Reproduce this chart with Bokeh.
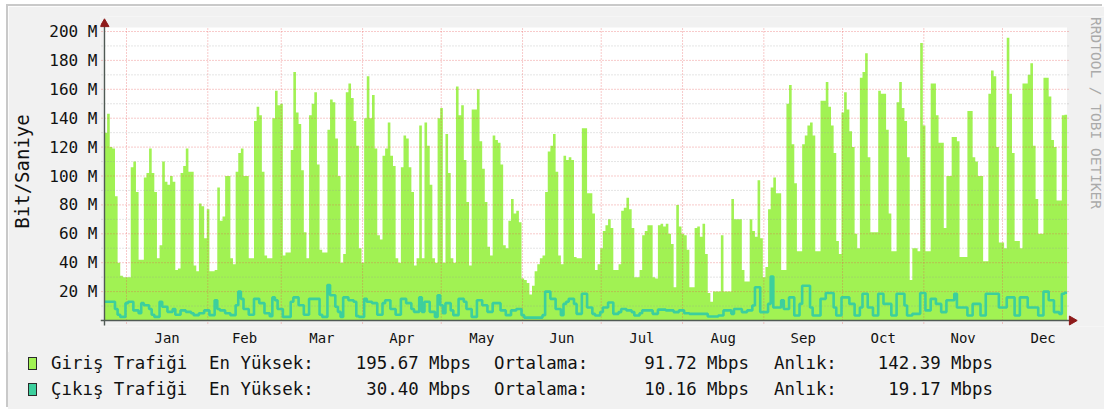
import numpy as np
from bokeh.plotting import figure
from bokeh.layouts import column
from bokeh.models import Range1d, FixedTicker, ColumnDataSource, Div
from bokeh.core.properties import value
from bokeh.embed import file_html
from bokeh.resources import INLINE

# ---------------- data ----------------
first_sample_day = -8.39          # start of first daily sample, in days from Jan 1
giris_mbps = [
    130, 143, 120, 119, 86, 40, 31, 30, 30, 30,
    106, 110, 89, 42, 42, 99, 102, 119, 102, 89,
    43, 52, 110, 96, 94, 100, 96, 35, 36, 102,
    107, 119, 103, 103, 38, 34, 81, 79, 57, 77,
    34, 34, 35, 92, 69, 72, 100, 100, 43, 39,
    103, 116, 119, 100, 100, 43, 43, 138, 148, 142,
    103, 45, 43, 43, 140, 159, 149, 150, 45, 47,
    47, 118, 172, 144, 136, 104, 61, 43, 142, 150,
    158, 108, 49, 47, 47, 132, 153, 151, 126, 100,
    40, 46, 158, 164, 154, 138, 121, 50, 40, 140,
    169, 140, 156, 119, 59, 56, 114, 119, 137, 114,
    107, 43, 40, 106, 128, 126, 106, 89, 38, 43,
    135, 43, 137, 121, 94, 43, 40, 140, 147, 40,
    129, 102, 43, 40, 162, 142, 149, 111, 82, 38,
    146, 146, 160, 124, 105, 82, 51, 45, 128, 125,
    123, 108, 52, 50, 69, 84, 74, 76, 68, 29,
    28, 26, 18, 24, 34, 39, 43, 45, 89, 117,
    121, 129, 103, 45, 39, 114, 111, 113, 111, 44,
    43, 43, 133, 133, 88, 88, 74, 35, 39, 50,
    62, 66, 70, 64, 35, 35, 39, 76, 78, 85,
    77, 64, 30, 30, 35, 59, 62, 66, 66, 30,
    29, 66, 67, 65, 67, 60, 53, 23, 80, 65,
    60, 59, 49, 23, 23, 64, 65, 58, 67, 46,
    19, 13, 20, 20, 20, 59, 20, 20, 20, 84,
    70, 70, 70, 35, 27, 27, 70, 62, 58, 97,
    57, 30, 37, 77, 92, 99, 88, 88, 35, 35,
    150, 163, 122, 95, 48, 48, 122, 128, 135, 137,
    128, 48, 48, 152, 152, 165, 148, 135, 116, 55,
    46, 144, 158, 146, 131, 120, 60, 50, 168, 172,
    185, 113, 61, 61, 61, 159, 157, 157, 132, 74,
    48, 48, 151, 165, 147, 138, 113, 28, 50, 50,
    48, 192, 135, 48, 48, 164, 164, 142, 123, 123,
    64, 100, 100, 127, 127, 124, 44, 44, 44, 145,
    145, 113, 110, 100, 100, 41, 41, 157, 173, 169,
    120, 54, 54, 50, 195.67, 157, 116, 55, 55, 50,
    164, 164, 170, 178, 121, 84, 60, 60, 168, 168,
    155, 125, 120, 83, 83, 142, 142.39,
]
cikis_mbps = [
    13, 13, 13, 13, 8, 4, 2.5, 2.5, 12, 13,
    13, 7, 7, 5, 12, 10.6, 10.6, 8, 4, 2.5,
    2.5, 13, 9.5, 9.5, 6, 6, 8, 4, 4, 7,
    7, 6, 6, 5, 3.7, 3.7, 5, 5, 7, 7,
    3.7, 3.7, 14, 8, 7, 7, 5, 5, 3.7, 3.7,
    10.6, 20, 15, 8, 8, 4, 4, 15, 15, 12,
    12, 5, 5, 3, 16, 14, 8, 8, 2.5, 2.5,
    2.5, 13, 16, 16, 10.6, 10.6, 4, 4, 15, 15,
    15, 15, 4, 2.5, 2.5, 24.5, 17.5, 17.5, 9.5, 6,
    2.5, 16, 16, 14, 14, 13, 3, 2.5, 2.5, 15,
    13, 13, 12, 12, 4, 4, 12, 14, 14, 8,
    8, 4, 4, 15, 15, 12, 12, 8, 6, 6,
    16, 6, 13, 13, 6, 6, 2.5, 17.5, 10.6, 5,
    12, 12, 7, 3.7, 3.7, 15, 15, 13, 8, 8,
    2.5, 2.5, 14, 14, 10.6, 10.6, 6, 6, 12, 12,
    12, 7, 7, 3.7, 3.7, 7, 7, 8, 8, 3.7,
    2, 2, 2, 2, 2, 2, 2, 3.7, 20, 20,
    15, 15, 8, 8, 3.7, 11.5, 13, 15, 15, 11.5,
    4.6, 4.6, 18.5, 18.5, 9, 9, 4.6, 3.5, 3.5, 5.8,
    9, 9, 12.5, 12.5, 4.6, 4.6, 5.8, 8, 8, 7,
    7, 5.8, 3.5, 3.5, 5, 7, 7, 7, 7, 4.6,
    4.6, 7.5, 7.5, 7.5, 7, 7, 7, 5.8, 5.8, 7,
    7, 5, 5, 4.6, 4.6, 4.6, 4.6, 4.6, 4.6, 4.6,
    2.8, 2.8, 2.8, 2.8, 3.5, 3.5, 7, 7, 7, 4.6,
    8, 8, 8, 5.8, 5.8, 7, 7, 10.4, 23, 23,
    5.8, 5.8, 5.8, 11.5, 30.4, 9, 9, 9, 14, 8,
    8, 16, 16, 3.5, 3.5, 11.5, 24, 24, 24, 9,
    3.5, 3.5, 3.5, 15, 15, 19, 19, 19, 9, 3.5,
    3.5, 16, 16, 16, 11.5, 11.5, 3.5, 3.5, 9, 18.5,
    18.5, 9, 9, 3.5, 3.5, 18.5, 18.5, 11.5, 11.5, 11.5,
    3.5, 3.5, 18.5, 18.5, 18.5, 10.4, 3.5, 3.5, 4.6, 4.6,
    4.6, 19, 19, 7, 7, 15, 15, 11.5, 11.5, 5.8,
    5.8, 14, 14, 14, 18.5, 9, 9, 9, 9, 3.5,
    3.5, 11.5, 11.5, 11.5, 3.5, 3.5, 18.5, 18.5, 18.5, 18.5,
    18.5, 9, 9, 9, 16, 16, 16, 3.5, 3.5, 16,
    16, 16, 9, 9, 9, 9, 3.5, 3.5, 20, 20,
    14, 14, 5.8, 5.8, 4.6, 18.5, 19.17,
]
months = ["Jan", "Feb", "Mar", "Apr", "May", "Jun",
          "Jul", "Aug", "Sep", "Oct", "Nov", "Dec"]
month_first_day = [0, 31, 59, 90, 120, 151, 181, 212, 243, 273, 304, 334]
month_length = [31, 28, 31, 30, 31, 30, 31, 31, 30, 31, 30, 31]
y_tick_values = [20, 40, 60, 80, 100, 120, 140, 160, 180, 200]
series_names = ["Giriş Trafiği", "Çıkış Trafiği"]
en_yuksek = [195.67, 30.40]
ortalama = [91.72, 10.16]
anlik = [142.39, 19.17]

# ---------------- styling / geometry ----------------
BACK = "#f1f1f1"
GREEN = "#a1f253"
TEAL = "#3ccf9d"
SERIES_COLORS = [GREEN, TEAL]
AXIS = "#505a55"
ARROW = "#8e1b1b"
MGRID = "#e65050"
MINOR = "#9a9a9a"
MONO = "DejaVu Sans Mono"
TXT = "#111111"

PX_PER_DAY = 2.6228
PX_PER_M = 1.445
OX, OY = 8, 6                       # page position of the chart's top-left corner
PAGE_W, PAGE_H = 1104, 409
SPLIT_Y = 352                       # page y where the legend strip begins
MAIN_W = PAGE_W - OX
MAIN_H = SPLIT_Y - OY
LEG_H = PAGE_H - SPLIT_Y


def day_at(px):      # page x pixel -> day coordinate
    return (px - 126.0) / PX_PER_DAY


def val_at(py):      # page y pixel -> value coordinate
    return (320.0 - py) / PX_PER_M


n = len(giris_mbps)
edges = first_sample_day + np.arange(n + 1)
src = ColumnDataSource(dict(
    x=edges,
    gir=list(giris_mbps) + [giris_mbps[-1]],
    cik=list(cikis_mbps) + [cikis_mbps[-1]],
))
canvas_left = float(edges[0])
canvas_right = float(edges[-1])
canvas_top = val_at(27)

FRAME_L, FRAME_T, FRAME_B = 100, 16, 326      # page pixels
p = figure(width=MAIN_W, height=MAIN_H,
           x_range=Range1d(day_at(FRAME_L), day_at(PAGE_W)),
           y_range=Range1d(val_at(FRAME_B), val_at(FRAME_T)),
           output_backend="svg", toolbar_location=None,
           min_border_left=FRAME_L - OX, min_border_right=0,
           min_border_top=FRAME_T - OY, min_border_bottom=SPLIT_Y - FRAME_B,
           background_fill_color=BACK, border_fill_color=BACK,
           outline_line_color=None)
p.grid.visible = False

# white canvas
p.quad(left=[canvas_left], right=[canvas_right], bottom=[0], top=[canvas_top],
       fill_color="white", line_color=None)

# incoming traffic area
p.varea_step(x="x", y1=0, y2="gir", step_mode="after", source=src,
             fill_color=GREEN)

# grid (drawn over the area, as rrdtool does)
minor_vals = [v - 10 for v in y_tick_values]
gx0, gx1 = day_at(101), day_at(1068)
p.segment(x0=gx0, x1=gx1, y0=minor_vals, y1=minor_vals,
          line_color=MINOR, line_alpha=0.5, line_dash="1 2", line_width=1)
p.segment(x0=gx0, x1=gx1, y0=y_tick_values, y1=y_tick_values,
          line_color=MGRID, line_alpha=0.6, line_dash="1 2", line_width=1)
p.segment(x0=month_first_day, x1=month_first_day, y0=val_at(323), y1=canvas_top,
          line_color=MGRID, line_alpha=0.6, line_dash="1 2", line_width=1)

# outgoing traffic line
p.step(x="x", y="cik", mode="after", source=src, line_color=TEAL, line_width=2.6)

# axis lines and arrows
p.segment(x0=[canvas_left], x1=[canvas_left], y0=[val_at(325)], y1=[val_at(22)],
          line_color=AXIS, line_width=1.4)
p.segment(x0=[day_at(100)], x1=[day_at(1070)], y0=[0], y1=[0],
          line_color=AXIS, line_width=1.4)
p.scatter(x=[canvas_left], y=[val_at(23.5)], marker="triangle", size=9,
          fill_color=ARROW, line_color=ARROW)
p.scatter(x=[day_at(1071.5)], y=[0], marker="triangle", size=9, angle=-np.pi / 2,
          fill_color=ARROW, line_color=ARROW)

# y axis
p.yaxis.ticker = FixedTicker(ticks=y_tick_values)
p.yaxis.major_label_overrides = {v: f"{v} M" for v in y_tick_values}
p.yaxis.axis_line_color = None
p.yaxis.major_tick_line_color = None
p.yaxis.minor_tick_line_color = None
p.yaxis.major_tick_out = 0
p.yaxis.major_tick_in = 0
p.yaxis.major_label_standoff = 3
p.yaxis.major_label_text_font = MONO
p.yaxis.major_label_text_font_size = "16px"
p.yaxis.major_label_text_color = TXT
p.yaxis.axis_label = "Bit/Saniye"
p.yaxis.axis_label_text_font = MONO
p.yaxis.axis_label_text_font_style = "normal"
p.yaxis.axis_label_text_font_size = "19px"
p.yaxis.axis_label_text_color = TXT
p.yaxis.axis_label_standoff = 13

# x axis (month names centred in each month)
month_mid = [f + l / 2 for f, l in zip(month_first_day, month_length)]
p.xaxis.ticker = FixedTicker(ticks=month_mid)
p.xaxis.major_label_overrides = {m: name for m, name in zip(month_mid, months)}
p.xaxis.axis_line_color = None
p.xaxis.major_tick_line_color = None
p.xaxis.minor_tick_line_color = None
p.xaxis.major_tick_out = 0
p.xaxis.major_tick_in = 0
p.xaxis.major_label_standoff = 3
p.xaxis.major_label_text_font = MONO
p.xaxis.major_label_text_font_size = "14px"
p.xaxis.major_label_text_color = TXT

# watermark (inside the frame, on the right margin)
p.text(x=[day_at(1095)], y=[val_at(16.5)], text=["RRDTOOL / TOBI OETIKER"],
       angle=-np.pi / 2, text_align="left", text_baseline="middle",
       text_font=value(MONO), text_font_size="14.5px", text_color="#aaaaaa")

# ---------------- legend strip (HTML, absolutely positioned pieces) ----------------
FS = 17.4
CAP_MID = 9.68                     # cap-height centre below the span top (line-height 20px)
rows_y = [362.5, 388.5]            # page y of the text rows
left_cols = [51, 209, 494, 774]    # page x where left-aligned pieces start
right_ends = [471, 749, 993]       # page x where right-aligned values end

span_css = ("position:absolute;white-space:pre;font-family:'DejaVu Sans Mono';"
            f"font-size:{FS}px;line-height:20px;color:{TXT};margin:0;padding:0;")
parts = []
for k in range(2):
    top = rows_y[k] - CAP_MID - SPLIT_Y
    sq_top = rows_y[k] + 0.5 - 6.5 - SPLIT_Y
    parts.append(
        f'<div style="position:absolute;left:{28 - OX}px;top:{sq_top:.1f}px;'
        f'width:9px;height:13px;box-sizing:border-box;background:{SERIES_COLORS[k]};'
        f'border:1px solid #2a2a2a;"></div>')
    lefts = [series_names[k], "En Yüksek:", "Ortalama:", "Anlık:"]
    for x, t in zip(left_cols, lefts):
        parts.append(f'<span style="{span_css}left:{x - OX}px;top:{top:.2f}px;">{t}</span>')
    rights = [f"{en_yuksek[k]:.2f} Mbps", f"{ortalama[k]:.2f} Mbps",
              f"{anlik[k]:.2f} Mbps"]
    for x, t in zip(right_ends, rights):
        parts.append(f'<span style="{span_css}right:{MAIN_W - (x - OX)}px;'
                     f'top:{top:.2f}px;">{t}</span>')

legend_html = (f'<div style="position:relative;width:{MAIN_W}px;height:{LEG_H}px;'
               f'background:{BACK};overflow:hidden;">' + "".join(parts) + "</div>")
legend_div = Div(text=legend_html, width=MAIN_W, height=LEG_H,
                 styles={"background-color": BACK, "margin": "0", "padding": "0"})

layout = column(p, legend_div, spacing=0, margin=(OY, 0, 0, OX),
                styles={"box-shadow": "-2px -2px 0 0 #c9c9c9"})
open("out.html", "w").write(file_html(layout, INLINE))
